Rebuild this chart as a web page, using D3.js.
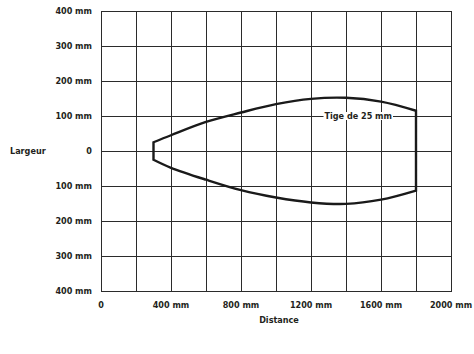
<!DOCTYPE html>
<html><head><meta charset="utf-8">
<script src="https://cdn.jsdelivr.net/npm/d3@7"></script>
<style>
html,body{margin:0;padding:0;background:#fff;}
svg text{font-family:"DejaVu Sans Condensed","Liberation Sans",sans-serif;font-weight:bold;fill:#231f20;}
</style></head>
<body>
<svg id="chart" width="474" height="354"></svg>
<script>
// Data (mm)
const distances = [300, 400, 600, 800, 1000, 1200, 1400, 1600, 1800];
const upperWidth = [25, 45, 83, 110, 134, 149, 152, 141, 115];
const lowerWidth = [-25, -48, -82, -112, -133, -147, -151, -139, -113];
const xTicks = [0, 400, 800, 1200, 1600, 2000];
const xTickLabels = ["0", "400 mm", "800 mm", "1200 mm", "1600 mm", "2000 mm"];
const yTicks = [400, 300, 200, 100, 0, -100, -200, -300, -400];
const yTickLabels = ["400 mm", "300 mm", "200 mm", "100 mm", "0", "100 mm", "200 mm", "300 mm", "400 mm"];
const xGrid = d3.range(0, 2001, 200);
const yGrid = d3.range(-400, 401, 100);
const annotation = {x: 1470, y: 100, text: "Tige de 25 mm"};

const svg = d3.select("#chart");
const pLeft = 101, pRight = 451, pTop = 11, pBottom = 291;
const x = d3.scaleLinear().domain([0, 2000]).range([pLeft, pRight]);
const y = d3.scaleLinear().domain([-400, 400]).range([pBottom, pTop]);
const px = v => Math.round(v) + 0.5;

const g = svg.append("g");
// grid
g.selectAll("line.vx").data(xGrid).enter().append("line")
  .attr("x1", d => px(x(d))).attr("x2", d => px(x(d)))
  .attr("y1", pTop).attr("y2", pBottom + 1)
  .attr("stroke", "#2b2b2b").attr("stroke-width", 1);
g.selectAll("line.hy").data(yGrid).enter().append("line")
  .attr("y1", d => px(y(d))).attr("y2", d => px(y(d)))
  .attr("x1", pLeft).attr("x2", pRight + 1)
  .attr("stroke", "#2b2b2b").attr("stroke-width", 1);

// envelope
const pts = distances.map((d, i) => [d, upperWidth[i]]);
const ptsLow = distances.map((d, i) => [d, lowerWidth[i]]);
const line = d3.line().x(d => x(d[0])).y(d => y(d[1])).curve(d3.curveCatmullRom.alpha(0.5));
const upPath = line(pts);
const lowPath = line(ptsLow.slice().reverse());
const dPath = upPath + lowPath.replace(/^M/, "L") + "Z";
g.append("path").attr("d", dPath).attr("fill", "none")
  .attr("stroke", "#1a1a1a").attr("stroke-width", 2.4).attr("stroke-linejoin", "miter");

// annotation with white background
const at = g.append("text").attr("x", x(annotation.x)).attr("y", y(annotation.y))
  .attr("text-anchor", "middle").attr("dominant-baseline", "central")
  .attr("font-size", 9).text(annotation.text);
const bb = at.node().getBBox();
g.insert("rect", "text").attr("x", bb.x - 1).attr("y", bb.y + 1).attr("width", bb.width + 2).attr("height", bb.height - 2).attr("fill", "#fff");

// axes labels
svg.selectAll("text.xt").data(xTicks).enter().append("text")
  .attr("x", d => x(d)).attr("y", 308).attr("text-anchor", "middle")
  .attr("font-size", 9)
  .text((d, i) => xTickLabels[i]);
svg.selectAll("text.yt").data(yTicks).enter().append("text")
  .attr("x", 92).attr("y", d => y(d)).attr("dominant-baseline", "central").attr("text-anchor", "end")
  .attr("font-size", 9)
  .text((d, i) => yTickLabels[i]);
svg.append("text").attr("x", 10).attr("y", 151).attr("dominant-baseline", "central")
  .attr("font-size", 9).text("Largeur");
svg.append("text").attr("x", 279).attr("y", 323).attr("text-anchor", "middle")
  .attr("font-size", 9).text("Distance");
</script>
</body></html>
